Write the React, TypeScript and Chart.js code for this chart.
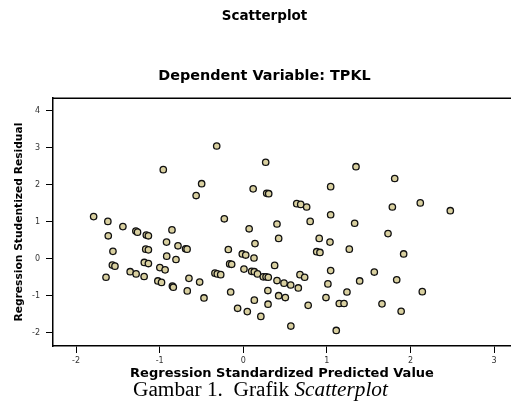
import React, { useEffect, useRef } from "react";
import { Chart, registerables } from "chart.js";

Chart.register(...registerables);

const titleText = "Scatterplot";
const subtitleText = "Dependent Variable: TPKL";
const xAxisTitle = "Regression Standardized Predicted Value";
const yAxisTitle = "Regression Studentized Residual";
const captionPrefix = "Gambar 1.  Grafik ";
const captionItalic = "Scatterplot";

const xTicks = [-2, -1, 0, 1, 2, 3];
const yTicks = [-2, -1, 0, 1, 2, 3, 4];

// Regression standardized predicted values
const predicted = [
  -1.79, -1.62, -1.615, -1.44, -1.285, -1.265, -1.16, -1.135, -0.957, -0.853,
  -0.918, -0.781, -0.69, -0.672, -1.559, -1.167, -1.135, -0.916, -0.805, -0.564,
  -0.498, -0.318, -0.227, -0.179, 0.07, 0.118, 0.14, -0.012, 0.029, 0.128,
  -1.566, -1.535, -1.184, -1.135, -0.998, -0.935, -1.642, -1.353, -1.282, -1.186,
  -1.022, -0.978, -0.848, -0.837, -0.65, -0.522, -0.67, -0.47, -0.339, -0.311,
  -0.27, -0.151, -0.163, -0.139, -0.068, 0.048, 0.008, 0.132, 0.1, 0.132,
  0.17, 0.239, 0.272, 0.299, 0.403, 0.487, 0.567, 0.658, 0.678, 0.734,
  0.423, 0.375, 0.294, 0.423, 0.503, 0.296, 0.21, 0.569, 0.776, 0.268,
  0.28, 0.304, 0.639, 0.687, 0.758, 0.403, 0.8, 1.348, 1.811, 1.045,
  1.783, 2.117, 2.476, 1.045, 1.332, 1.731, 0.908, 1.037, 0.878, 0.917,
  1.268, 1.918, 1.045, 1.567, 1.012, 1.392, 1.835, 2.141, 1.24, 0.989,
  1.148, 1.205, 1.659, 1.888, 1.112,
];

// Regression studentized residuals
const residual = [
  1.14, 1.01, 0.62, 0.87, 0.75, 0.72, 0.64, 0.62, 2.41, 0.78,
  0.45, 0.35, 0.27, 0.26, 0.2, 0.26, 0.24, 0.07, -0.02, 1.71,
  2.03, 3.05, 1.08, 0.25, 0.81, 1.89, 0.41, 0.13, 0.1, 0.02,
  -0.17, -0.2, -0.1, -0.13, -0.24, -0.3, -0.5, -0.35, -0.41, -0.48,
  -0.6, -0.64, -0.74, -0.77, -0.53, -0.63, -0.87, -1.06, -0.39, -0.41,
  -0.43, -0.9, -0.14, -0.15, -1.34, -1.43, -0.28, -1.12, -0.34, -0.35,
  -0.41, -0.49, -0.49, -0.5, -0.59, -0.66, -0.71, -0.79, -0.43, -0.5,
  0.55, -0.18, -0.86, -1.0, -1.05, -1.23, -1.56, -1.82, -1.26, 2.61,
  1.77, 1.76, 1.49, 1.47, 1.4, 0.94, 1.01, 2.49, 2.17, 1.95,
  1.4, 1.51, 1.3, 1.19, 0.96, 0.68, 0.55, 0.45, 0.19, 0.17,
  0.26, 0.13, -0.32, -0.36, -0.68, -0.6, -0.57, -0.89, -0.9, -1.05,
  -1.21, -1.21, -1.22, -1.42, -1.94,
];

const topBorder = {
  id: "topBorder",
  afterDraw(chart: any) {
    const { ctx, chartArea } = chart;
    ctx.save();
    ctx.strokeStyle = "#000";
    ctx.lineWidth = 1.5;
    ctx.beginPath();
    ctx.moveTo(chartArea.left, chartArea.top);
    ctx.lineTo(chartArea.right + 2, chartArea.top);
    ctx.stroke();
    ctx.restore();
  },
};

export default function App() {
  const ref = useRef<HTMLCanvasElement | null>(null);

  useEffect(() => {
    if (!ref.current) return;
    const points = predicted.map((x, i) => ({ x, y: residual[i] }));
    const tickFont = { family: "'DejaVu Sans', sans-serif", size: 8 };
    const chart = new Chart(ref.current, {
      type: "scatter",
      data: {
        datasets: [
          {
            data: points,
            backgroundColor: "#d9d0a0",
            borderColor: "#111",
            borderWidth: 1.3,
            pointRadius: 3.2,
          },
        ],
      },
      plugins: [topBorder],
      options: {
        responsive: false,
        animation: false,
        events: [],
        layout: { autoPadding: false, padding: { left: 18, right: 0, top: 0, bottom: 0 } },
        plugins: {
          legend: { display: false },
          tooltip: { enabled: false },
          title: {
            display: true,
            text: titleText,
            color: "#000",
            font: { family: "'DejaVu Sans', sans-serif", size: 13.5, weight: "bold" },
            padding: { top: 8.5, bottom: 0 },
          },
          subtitle: {
            display: true,
            text: subtitleText,
            color: "#000",
            font: { family: "'DejaVu Sans', sans-serif", size: 14.4, weight: "bold" },
            padding: { top: 43, bottom: 13.2 },
          },
        },
        scales: {
          x: {
            type: "linear",
            min: -2.276,
            max: 3.202,
            afterBuildTicks: (s: any) => {
              s.ticks = xTicks.map((v) => ({ value: v }));
            },
            afterFit: (s: any) => {
              s.height = 62;
              s.paddingLeft = 0;
              s.paddingRight = 0;
            },
            grid: {
              display: true,
              drawOnChartArea: false,
              drawTicks: true,
              tickLength: 7,
              color: "#000",
              lineWidth: 1,
            },
            border: { display: true, color: "#000", width: 1.5 },
            ticks: { color: "#333", font: tickFont, padding: 3, maxRotation: 0 },
            title: {
              display: true,
              text: xAxisTitle,
              color: "#000",
              font: { family: "'DejaVu Sans', sans-serif", size: 13, weight: "bold" },
              padding: { top: 0, bottom: 26.5 },
            },
          },
          y: {
            type: "linear",
            min: -2.36,
            max: 4.343,
            afterBuildTicks: (s: any) => {
              s.ticks = yTicks.map((v) => ({ value: v }));
            },
            afterFit: (s: any) => {
              s.width = 35;
              s.paddingTop = 0;
              s.paddingBottom = 0;
            },
            grid: {
              display: true,
              drawOnChartArea: false,
              drawTicks: true,
              tickLength: 7,
              color: "#000",
              lineWidth: 1,
            },
            border: { display: true, color: "#000", width: 1.5 },
            ticks: { color: "#333", font: tickFont, padding: 6 },
            title: {
              display: true,
              text: yAxisTitle,
              color: "#000",
              font: { family: "'DejaVu Sans', sans-serif", size: 10.7, weight: "bold", lineHeight: 1 },
              padding: { top: -4.4, bottom: 0 },
            },
          },
        },
      },
    });
    return () => chart.destroy();
  }, []);

  return (
    <div style={{ position: "fixed", left: 0, top: 0, width: 511, height: 408, background: "#fff", overflow: "hidden" }}>
      <canvas ref={ref} width={511} height={408} style={{ width: 511, height: 408, display: "block" }} />
      <div
        style={{
          position: "absolute",
          left: 133,
          top: 379.2,
          fontFamily: "'Liberation Serif', 'Times New Roman', serif",
          fontSize: 21.3,
          lineHeight: "21px",
          whiteSpace: "pre",
          color: "#000",
        }}
      >
        {captionPrefix}
        <i>{captionItalic}</i>
      </div>
    </div>
  );
}
